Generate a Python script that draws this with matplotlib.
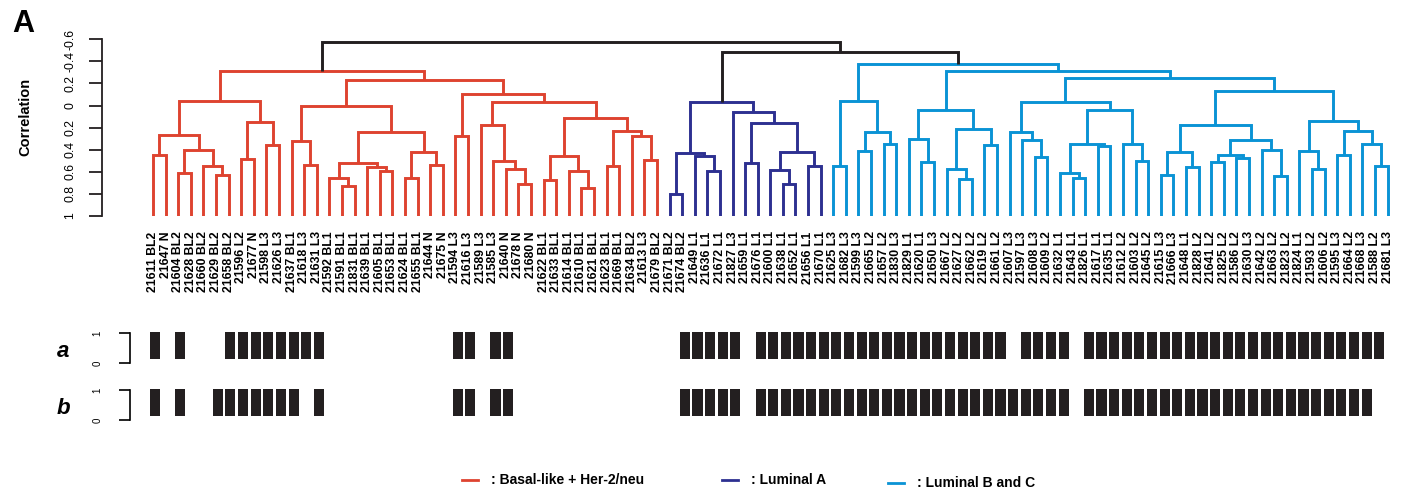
import numpy as np
import matplotlib.pyplot as plt
from matplotlib.lines import Line2D

plt.rcParams['font.family'] = ['Liberation Sans', 'DejaVu Sans']

# sample labels, in leaf order
labels = ['21611 BL2', '21647 N', '21604 BL2', '21628 BL2', '21660 BL2', '21629 BL2', '21658 BL2',
          '21596 L2', '21677 N', '21598 L3', '21626 L3', '21637 BL1', '21618 L3', '21631 L3',
          '21592 BL1', '21591 BL1', '21831 BL1', '21639 BL1', '21605 BL1', '21653 BL1', '21624 BL1',
          '21655 BL1', '21644 N', '21675 N', '21594 L3', '21616 L3', '21589 L3', '21585 L3',
          '21640 N', '21678 N', '21680 N', '21622 BL1', '21633 BL1', '21614 BL1', '21610 BL1',
          '21621 BL1', '21623 BL1', '21669 BL1', '21634 BL2', '21613 L3', '21679 BL2',
          '21671 BL2', '21674 BL2', '21649 L1', '21636 L1', '21672 L1', '21827 L3', '21659 L1',
          '21676 L1', '21600 L1', '21638 L1', '21652 L1', '21656 L1', '21670 L1',
          '21625 L3', '21682 L3', '21599 L3', '21665 L2', '21657 L2', '21830 L3', '21829 L1',
          '21620 L1', '21650 L3', '21667 L2', '21627 L2', '21662 L2', '21619 L2', '21661 L2',
          '21607 L3', '21597 L3', '21608 L3', '21609 L2', '21632 L1', '21643 L1', '21826 L1',
          '21617 L1', '21635 L1', '21612 L2', '21603 L2', '21645 L2', '21615 L3', '21666 L3',
          '21648 L1', '21828 L2', '21641 L2', '21825 L2', '21586 L2', '21630 L3', '21642 L2',
          '21663 L2', '21823 L2', '21824 L1', '21593 L2', '21606 L2', '21595 L3', '21664 L2',
          '21668 L3', '21588 L2', '21681 L3']

group_names = ['Basal-like + Her-2/neu', 'Luminal A', 'Luminal B and C']
group_sizes = [41, 13, 45]
group_colors = ['#DE4330', '#2D3091', '#0A93D5']
link_color = '#231F20'

# merges (left, right, correlation); ids >= 99 point to earlier merges (99 + row number)
merges = [
    (0, 1, 0.45), (2, 3, 0.61), (5, 6, 0.625), (4, 101, 0.55), (100, 102, 0.40),
    (99, 103, 0.265), (7, 8, 0.48), (9, 10, 0.36), (105, 106, 0.15), (104, 107, -0.045),
    (12, 13, 0.536), (11, 109, 0.32), (15, 16, 0.727), (14, 111, 0.66), (18, 19, 0.594),
    (17, 113, 0.56), (112, 114, 0.52), (20, 21, 0.657), (22, 23, 0.54), (116, 117, 0.42),
    (115, 118, 0.24), (110, 119, 0.0), (24, 25, 0.273), (29, 30, 0.706), (28, 122, 0.576),
    (27, 123, 0.506), (26, 124, 0.18), (31, 32, 0.673), (34, 35, 0.742), (33, 127, 0.597),
    (126, 128, 0.455), (36, 37, 0.55), (39, 40, 0.49), (38, 131, 0.273), (130, 132, 0.227),
    (129, 133, 0.112), (125, 134, -0.03), (121, 135, -0.106), (120, 136, -0.233),
    (108, 137, -0.31),
    (41, 42, 0.803), (44, 45, 0.59), (43, 140, 0.455), (139, 141, 0.43), (47, 48, 0.52),
    (50, 51, 0.706), (49, 144, 0.58), (52, 53, 0.55), (145, 146, 0.424), (143, 147, 0.16),
    (46, 148, 0.06), (142, 149, -0.03),
    (54, 55, 0.55), (56, 57, 0.41), (58, 59, 0.35), (152, 153, 0.236), (151, 154, -0.04),
    (61, 62, 0.51), (60, 156, 0.30), (64, 65, 0.667), (63, 158, 0.576), (66, 67, 0.357),
    (159, 160, 0.21), (157, 161, 0.036), (70, 71, 0.464), (69, 163, 0.31), (68, 164, 0.236),
    (73, 74, 0.66), (72, 166, 0.612), (75, 76, 0.364), (167, 168, 0.348), (78, 79, 0.506),
    (77, 170, 0.348), (169, 171, 0.036), (165, 172, -0.03), (80, 81, 0.63), (82, 83, 0.555),
    (174, 175, 0.424), (84, 85, 0.515), (86, 87, 0.476), (177, 178, 0.445), (89, 90, 0.642),
    (88, 180, 0.40), (179, 181, 0.31), (176, 182, 0.173), (92, 93, 0.57), (91, 184, 0.41),
    (94, 95, 0.445), (97, 98, 0.55), (96, 187, 0.348), (186, 188, 0.233), (185, 189, 0.14),
    (183, 190, -0.136), (173, 191, -0.248), (162, 192, -0.31), (155, 193, -0.38),
    (150, 194, -0.485), (138, 195, -0.575),
]

corr_ticks = [1, 0.8, 0.6, 0.4, 0.2, 0, -0.2, -0.4, -0.6]
corr_ticklabels = ['1', '0.8', '0.6', '0.4', '0.2', '0', '0.2', '-0.4', '-0.6']

# presence rows under the tree (1 = bar)
row_a = ([1, 0, 1, 0, 0, 0, 1, 1, 1, 1, 1, 1, 1, 1, 0, 0, 0, 0, 0, 0, 0, 0, 0, 0, 1, 1, 0, 1, 1,
          0, 0, 0, 0, 0, 0, 0, 0, 0, 0, 0, 0]
         + [0, 1, 1, 1, 1, 1, 0, 1, 1, 1, 1, 1, 1]
         + [1, 1, 1, 1, 1, 1, 1, 1, 1, 1, 1, 1, 1, 1, 0, 1, 1, 1, 1, 0, 1, 1, 1, 1, 1, 1, 1,
            1, 1, 1, 1, 1, 1, 1, 1, 1, 1, 1, 1, 1, 1, 1, 1, 1, 0])
row_b = ([1, 0, 1, 0, 0, 1, 1, 1, 1, 1, 1, 1, 0, 1, 0, 0, 0, 0, 0, 0, 0, 0, 0, 0, 1, 1, 0, 1, 1,
          0, 0, 0, 0, 0, 0, 0, 0, 0, 0, 0, 0]
         + [0, 1, 1, 1, 1, 1, 0, 1, 1, 1, 1, 1, 1]
         + [1, 1, 1, 1, 1, 1, 1, 1, 1, 1, 1, 1, 1, 1, 1, 1, 1, 1, 1, 0, 1, 1, 1, 1, 1, 1, 1,
            1, 1, 1, 1, 1, 1, 1, 1, 1, 1, 1, 1, 1, 1, 1, 1, 0, 0])
row_names = ['a', 'b']

W, H = 1423, 495
fig = plt.figure(figsize=(W / 100, H / 100), dpi=100)


def px_box(left, top, right, bottom):
    return [left / W, 1 - bottom / H, (right - left) / W, (bottom - top) / H]


# leaf -> group index
n = len(labels)
leaf_group = np.repeat(np.arange(len(group_sizes)), group_sizes)

# dendrogram
ax = fig.add_axes(px_box(101.7, 39.3, 1410, 216))
pos = {i: (float(i), 1.0) for i in range(n)}
members = {i: {i} for i in range(n)}
for k, (l, r, h) in enumerate(merges):
    nid = n + k
    xl, hl = pos[l]
    xr, hr = pos[r]
    members[nid] = members[l] | members[r]
    grps = set(leaf_group[list(members[nid])])
    col = group_colors[grps.pop()] if len(grps) == 1 else link_color
    ax.plot([xl, xl, xr, xr], [hl, h, h, hr], color=col, lw=2.1, solid_capstyle='butt',
            solid_joinstyle='miter')
    pos[nid] = ((xl + xr) / 2, h)

ax.set_xlim((101.7 - 153) / 12.598, (1410 - 153) / 12.598)
ax.set_ylim(1, -0.6)
for s in ['top', 'right', 'bottom']:
    ax.spines[s].set_visible(False)
ax.spines['left'].set_linewidth(1.3)
ax.spines['left'].set_color(link_color)
ax.set_yticks(corr_ticks)
ax.set_yticklabels(corr_ticklabels, rotation=90, fontsize=8.8, va='center')
ax.tick_params(axis='y', length=9.5, width=1.3, pad=9, color=link_color)
ax.set_xticks(range(n))
ax.set_xticklabels(labels, rotation=90, fontsize=8.8, fontweight='bold')
ax.tick_params(axis='x', length=0, pad=11)

fig.text(12 / W, 1 - 31.7 / H, 'A', fontsize=22, fontweight='bold', va='baseline')
fig.text(25 / W, 1 - 117 / H, 'Correlation', rotation=90, fontsize=10.5, fontweight='bold',
         ha='center', va='center')

# presence rows
for row, name, top in zip([row_a, row_b], row_names, [333.3, 390]):
    bx = fig.add_axes(px_box(130, top, 1410, top + 30))
    xs = [i for i, v in enumerate(row) if v]
    bx.bar(xs, [0.9] * len(xs), bottom=0.15, width=0.8, color=link_color, clip_on=False)
    bx.set_xlim((130 - 154.7) / 12.624, (1410 - 154.7) / 12.624)
    bx.set_ylim(0, 1)
    for s in ['top', 'right', 'bottom']:
        bx.spines[s].set_visible(False)
    bx.spines['left'].set_linewidth(1.2)
    bx.set_xticks([])
    bx.set_yticks([0, 1])
    bx.set_yticklabels(['0', '1'], rotation=90, fontsize=7, va='center')
    bx.tick_params(axis='y', length=8, width=1.2, pad=12)
    bx.patch.set_visible(False)
    fig.text(63 / W, 1 - (top + 24) / H, name, fontsize=16, fontweight='bold', style='italic',
             ha='center', va='baseline')

# legend
leg_x = [462, 722, 888]
leg_y = [480, 480, 483]
for gname, col, x0, y0 in zip(group_names, group_colors, leg_x, leg_y):
    fig.add_artist(Line2D([x0 / W, (x0 + 16) / W], [1 - y0 / H, 1 - y0 / H], color=col, lw=2))
    fig.text((x0 + 29) / W, 1 - y0 / H, ': ' + gname, fontsize=10, fontweight='bold',
             va='center')

fig.savefig('out.png', dpi=100)
